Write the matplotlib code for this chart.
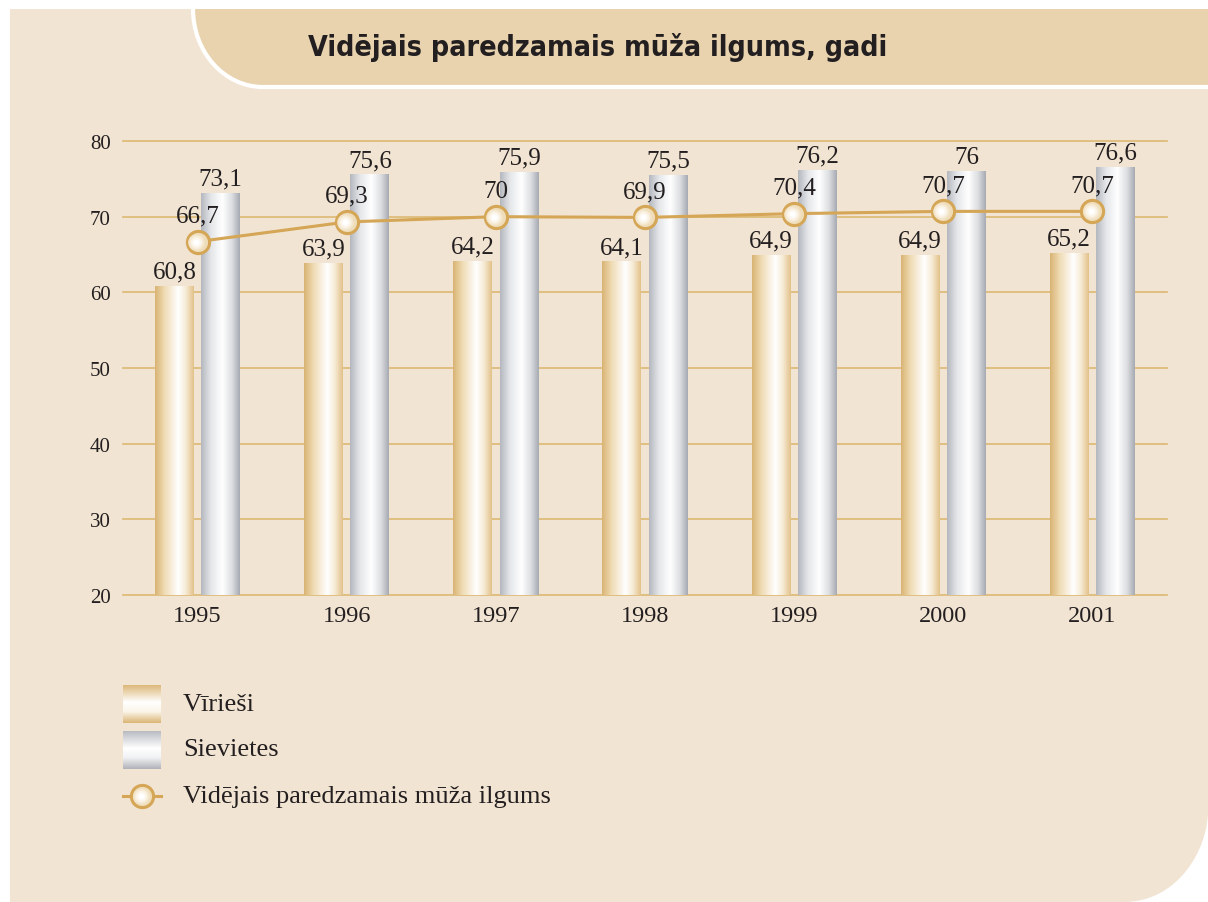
import matplotlib
matplotlib.use('Agg')
import matplotlib.pyplot as plt
import numpy as np
from matplotlib.path import Path
from matplotlib.patches import PathPatch

years = ["1995", "1996", "1997", "1998", "1999", "2000", "2001"]
viriesi = [60.8, 63.9, 64.2, 64.1, 64.9, 64.9, 65.2]
sievietes = [73.1, 75.6, 75.9, 75.5, 76.2, 76, 76.6]
videjais = [66.7, 69.3, 70, 69.9, 70.4, 70.7, 70.7]

title = "Vidējais paredzamais mūža ilgums, gadi"
leg_labels = ["Vīrieši", "Sievietes", "Vidējais paredzamais mūža ilgums"]

PANEL = "#f2e4d2"
TITLEBOX = "#e8d3ae"
GOLD = "#d4a656"
GRID = "#ddb872"
TXT = "#231f20"
SERIF = ["Liberation Serif", "DejaVu Serif"]


def grad(stops, n=64):
    pos = [p for p, _ in stops]
    cols = [matplotlib.colors.to_rgb(c) for _, c in stops]
    t = np.linspace(0, 1, n)
    return np.stack([np.interp(t, pos, [c[i] for c in cols]) for i in range(3)], axis=-1)


men_grad = grad([(0, "#d9b474"), (0.25, "#f0dcb6"), (0.6, "#ffffff"), (0.8, "#f6ead4"), (1, "#e2c28a")])
wom_grad = grad([(0, "#b4b8bf"), (0.25, "#e4e6e9"), (0.55, "#ffffff"), (0.8, "#dcdee1"), (1, "#a7abb2")])

fig = plt.figure(figsize=(12.08, 9.03), dpi=100)
fig.patch.set_facecolor("white")

# fons un virsraksta josla, pikseļu koordinātēs
bg = fig.add_axes([0, 0, 1, 1])
bg.set_xlim(0, 1208)
bg.set_ylim(903, 0)
bg.axis("off")

panel = Path([(10, 10), (1208, 10), (1208, 812), (1208, 850), (1178, 903), (1124, 903), (10, 903), (10, 10)],
             [Path.MOVETO, Path.LINETO, Path.LINETO, Path.CURVE4, Path.CURVE4, Path.CURVE4, Path.LINETO, Path.CLOSEPOLY])
bg.add_patch(PathPatch(panel, facecolor=PANEL, edgecolor="none"))

k = 0.5523
cx, rx, ry, yb = 263, 70, 78, 88
box = Path([(cx - rx, 10), (cx - rx, 10 + ry * k), (cx - rx * k, yb), (cx, yb), (1208, yb), (1208, 10), (cx - rx, 10)],
           [Path.MOVETO, Path.CURVE4, Path.CURVE4, Path.CURVE4, Path.LINETO, Path.LINETO, Path.CLOSEPOLY])
bg.add_patch(PathPatch(box, facecolor=TITLEBOX, edgecolor="none"))
edge = Path([(cx - rx, 10), (cx - rx, 10 + ry * k), (cx - rx * k, yb), (cx, yb), (1208, yb)],
            [Path.MOVETO, Path.CURVE4, Path.CURVE4, Path.CURVE4, Path.LINETO])
bg.add_patch(PathPatch(edge, facecolor="none", edgecolor="white", lw=3))

bg.text(598, 48, title, ha="center", va="center", fontsize=20.5, fontweight="bold",
        fontstretch="condensed", color=TXT, family="DejaVu Sans")

# diagramma
ax = fig.add_axes([123 / 1208, 1 - 596 / 903, 1044 / 1208, 454 / 903])
ax.patch.set_alpha(0)
x = np.arange(len(years))
bw = 0.26
off = 0.155

bars_m = ax.bar(x - off, viriesi, width=bw, color="none", edgecolor="none", zorder=2)
bars_w = ax.bar(x + off, sievietes, width=bw, color="none", edgecolor="none", zorder=2)
for bars, g in ((bars_m, men_grad), (bars_w, wom_grad)):
    for b in bars:
        im = ax.imshow(g[np.newaxis, :, :], extent=(b.get_x(), b.get_x() + b.get_width(), 20, b.get_height()),
                       aspect="auto", zorder=2, interpolation="bilinear")
        im.set_clip_path(b)

for bars, vals in ((bars_m, viriesi), (bars_w, sievietes)):
    for b, v in zip(bars, vals):
        ax.annotate(f"{v:g}".replace(".", ","), (b.get_x() + b.get_width() / 2, v), xytext=(0, 6),
                    textcoords="offset points", ha="center", va="baseline", fontsize=18,
                    color=TXT, family=SERIF, zorder=7)

ax.plot(x, videjais, color=GOLD, lw=2.2, zorder=4)
ax.plot(x, videjais, "o", ms=16, mfc="#efdcb8", mec=GOLD, mew=2.2, zorder=5)
for s, c in zip([12, 10, 8, 6, 4], ["#f3e4c8", "#f7ecd8", "#faf3e6", "#fdf9f2", "#ffffff"]):
    ax.plot(x - 0.012, videjais, "o", ms=s, mfc=c, mec="none", zorder=6)
for xi, v in zip(x, videjais):
    ax.annotate(f"{v:g}".replace(".", ","), (xi, v), xytext=(0, 14.5), textcoords="offset points",
                ha="center", va="baseline", fontsize=18, color=TXT, family=SERIF, zorder=7)

ax.set_xlim(-0.5, len(years) - 0.5)
ax.set_ylim(20, 80)
ax.set_yticks(range(20, 81, 10))
ax.set_xticks(x)
ax.set_xticklabels(years)
ax.yaxis.grid(True, color=GRID, lw=1.2, zorder=1)
ax.set_axisbelow(True)
for gl in ax.get_ygridlines():
    gl.set_clip_on(False)
for sp in ax.spines.values():
    sp.set_visible(False)
ax.tick_params(axis="y", length=0, pad=9, labelsize=15, labelcolor=TXT)
ax.tick_params(axis="x", length=0, pad=7, labelsize=17.5, labelcolor=TXT)
for lab in ax.get_xticklabels() + ax.get_yticklabels():
    lab.set_family(SERIF)

# leģenda
lm = grad([(0, "#ddb87a"), (0.45, "#ffffff"), (0.7, "#fbf5ea"), (1, "#dcb676")])
lw_ = grad([(0, "#b9bcc2"), (0.45, "#ffffff"), (0.7, "#f1f2f3"), (1, "#b0b3b9")])
bg.imshow(lm[:, np.newaxis, :], extent=(123, 161, 724, 686), aspect="auto", interpolation="bilinear", zorder=3)
bg.imshow(lw_[:, np.newaxis, :], extent=(123, 161, 770, 732), aspect="auto", interpolation="bilinear", zorder=3)
bg.plot([123, 161], [797, 797], color=GOLD, lw=2.2, zorder=3)
bg.plot([142], [797], "o", ms=16, mfc="#efdcb8", mec=GOLD, mew=2.2, zorder=4)
for s, c in zip([12, 10, 8, 6, 4], ["#f3e4c8", "#f7ecd8", "#faf3e6", "#fdf9f2", "#ffffff"]):
    bg.plot([141], [797], "o", ms=s, mfc=c, mec="none", zorder=5)
for yy, lab in zip([705, 750, 797], leg_labels):
    bg.text(183, yy, lab, ha="left", va="center", fontsize=19, color=TXT, family=SERIF)
bg.set_xlim(0, 1208)
bg.set_ylim(903, 0)

fig.savefig("out.png", dpi=100, facecolor="white")
